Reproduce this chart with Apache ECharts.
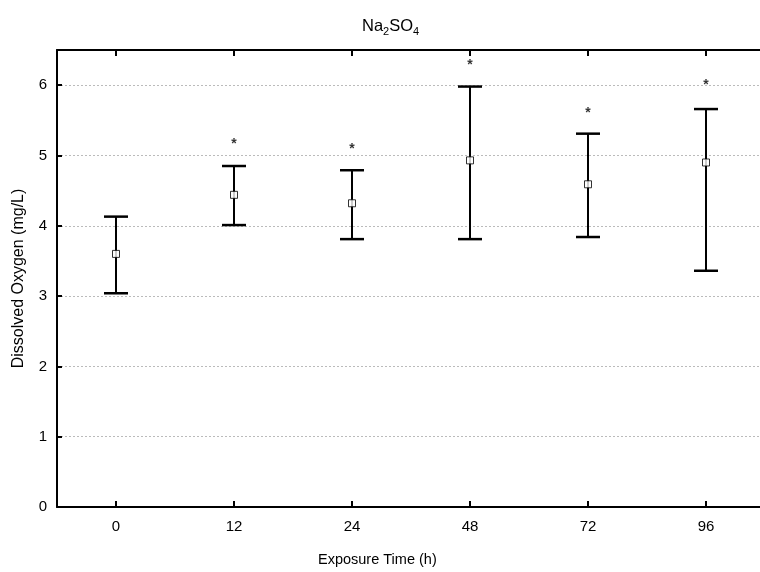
<!DOCTYPE html>
<html><head><meta charset="utf-8">
<script src="https://cdn.jsdelivr.net/npm/echarts@6/dist/echarts.min.js"></script>
<style>html,body{margin:0;padding:0;background:#fff}#c{width:760px;height:572px}</style>
</head><body><div id="c"></div>
<script>
const categories = ['0','12','24','48','72','96'];
const means = [3.60, 4.44, 4.32, 4.93, 4.59, 4.90];
const upper = [4.13, 4.85, 4.79, 5.98, 5.31, 5.66];
const lower = [3.04, 4.01, 3.81, 3.81, 3.84, 3.36];
const starY = [null, 5.16, 5.09, 6.29, 5.60, 6.00];
const yTicks = [0,1,2,3,4,5,6];

const chart = echarts.init(document.getElementById('c'));
const font = 'Liberation Sans, Arial, sans-serif';
chart.setOption({
  animation:false,
  backgroundColor:'#fff',
  title:{text:'Na{s|2}SO{s|4}',left:357,top:11,
    textStyle:{fontFamily:font,fontSize:16.5,fontWeight:'normal',color:'#000',
      rich:{s:{fontSize:11,verticalAlign:'bottom',padding:[10,0,0,0],fontFamily:font,color:'#000'}}}},
  graphic:[{type:'text',left:318,top:552,style:{text:'Exposure Time (h)',font:'14.5px '+font,fill:'#000'}}],
  grid:{left:57,top:50,width:708,height:457,containLabel:false,outerBoundsMode:'none'},
  xAxis:[{type:'category',data:categories,boundaryGap:true,
    axisLine:{show:true,lineStyle:{color:'#000',width:2}},
    axisTick:{show:true,inside:true,length:6,alignWithLabel:true,lineStyle:{color:'#000',width:2}},
    axisLabel:{color:'#000',fontFamily:font,fontSize:15,margin:12},
    splitLine:{show:false}},
   {type:'category',data:categories,position:'top',boundaryGap:true,
    axisLine:{show:true,lineStyle:{color:'#000',width:2}},
    axisTick:{show:true,inside:true,length:6,alignWithLabel:true,lineStyle:{color:'#000',width:2}},
    axisLabel:{show:false}}],
  yAxis:{type:'value',min:0,max:6.5,interval:1,
    name:'Dissolved Oxygen (mg/L)',nameLocation:'middle',nameGap:30,
    nameTextStyle:{color:'#000',fontFamily:font,fontSize:16},
    axisLine:{show:true,lineStyle:{color:'#000',width:2}},
    axisTick:{show:true,inside:true,length:5,lineStyle:{color:'#000',width:2}},
    axisLabel:{color:'#000',fontFamily:font,fontSize:15,margin:10,
      formatter:v=>yTicks.includes(v)?String(v):''},
    splitLine:{show:true,lineStyle:{color:'#bbb',type:[2,2],width:1}}},
  series:[
    {type:'custom',renderItem:(params,api)=>{
        const x=api.value(0);
        const pt=api.coord([x,api.value(1)]);
        const pb=api.coord([x,api.value(2)]);
        const hw=12;
        const st={stroke:'#000',lineWidth:2};
        return {type:'group',children:[
          {type:'line',shape:{x1:pt[0],y1:pt[1],x2:pb[0],y2:pb[1]},style:st},
          {type:'line',shape:{x1:pt[0]-hw,y1:pt[1],x2:pt[0]+hw,y2:pt[1]},style:{stroke:'#000',lineWidth:2.5}},
          {type:'line',shape:{x1:pb[0]-hw,y1:pb[1],x2:pb[0]+hw,y2:pb[1]},style:{stroke:'#000',lineWidth:2.5}}
        ]};
      },
      data:categories.map((c,i)=>[i,upper[i],lower[i]]),z:2},
    {type:'scatter',symbol:'rect',symbolSize:7,
      itemStyle:{color:'#fff',borderColor:'#000',borderWidth:1},
      data:categories.map((c,i)=>[i,means[i]]),z:3},
    {type:'scatter',symbolSize:0,
      label:{show:true,position:'inside',formatter:'*',color:'#000',fontSize:14,fontWeight:'bold',fontFamily:font},
      data:categories.map((c,i)=>[i,starY[i]]).filter(d=>d[1]!==null),z:3}
  ]
});
</script></body></html>
